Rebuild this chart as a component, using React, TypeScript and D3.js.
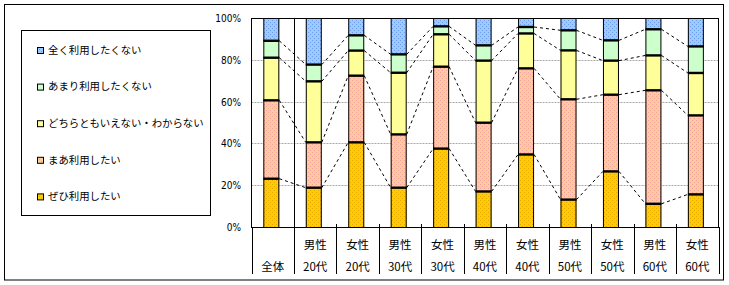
import React, { useEffect, useRef } from "react";
import * as d3 from "d3";

// categories (two label rows)
const rowTop = ["", "男性", "女性", "男性", "女性", "男性", "女性", "男性", "女性", "男性", "女性"];
const rowBottom = ["全体", "20代", "20代", "30代", "30代", "40代", "40代", "50代", "50代", "60代", "60代"];

// series, bottom to top (percent)
const zehi = [23.1, 18.8, 40.5, 18.8, 37.5, 17.0, 34.7, 13.1, 26.6, 11.1, 15.6];
const maa = [37.5, 21.7, 31.9, 25.5, 39.2, 32.9, 41.2, 48.0, 36.7, 54.3, 37.8];
const dochira = [20.4, 29.2, 12.0, 29.5, 15.5, 29.7, 16.7, 23.4, 16.3, 16.7, 20.3];
const amari = [8.1, 8.0, 7.3, 8.8, 3.8, 7.3, 3.1, 9.6, 9.7, 12.5, 12.7];
const mattaku = [10.9, 22.3, 8.3, 17.4, 4.0, 13.1, 4.3, 5.9, 10.7, 5.4, 13.6];

const seriesNames = ["ぜひ利用したい", "まあ利用したい", "どちらともいえない・わからない", "あまり利用したくない", "全く利用したくない"];
const seriesKeys = ["zehi", "maa", "dochira", "amari", "mattaku"];
const yTicks = [0, 20, 40, 60, 80, 100];

const fills: Record<string, [string, string | null]> = {
  zehi: ["#FFCC00", "#E6A800"],
  maa: ["#FFCC99", "#F4A0A0"],
  dochira: ["#FFFF99", null],
  amari: ["#CCFFCC", null],
  mattaku: ["#99CCFF", "#6F9AF0"],
};

const W = 729, H = 285;
const plot = { left: 251.5, right: 718.5, top: 18, bottom: 227 };
const barW = 16;
const jp = "'Noto Sans CJK JP', sans-serif";

export default function App() {
  const ref = useRef<SVGSVGElement>(null);

  useEffect(() => {
    document.body.style.margin = "0";
    const svg = d3.select(ref.current);
    svg.selectAll("*").remove();

    const rows = rowBottom.map((_, i) => ({
      idx: i,
      zehi: zehi[i], maa: maa[i], dochira: dochira[i], amari: amari[i], mattaku: mattaku[i],
    }));
    const stacked = d3.stack<any>().keys(seriesKeys)(rows);

    const x = d3.scaleBand<number>()
      .domain(rows.map(r => r.idx))
      .range([plot.left, plot.right])
      .padding(0);
    const y = d3.scaleLinear().domain([0, 100]).range([plot.bottom, plot.top]);
    const barX = (i: number) => x(i)! + (x.bandwidth() - barW) / 2 - 1.4;

    // patterns
    const defs = svg.append("defs");
    seriesKeys.forEach(k => {
      const [base, dot] = fills[k];
      const p = defs.append("pattern")
        .attr("id", "pat-" + k)
        .attr("patternUnits", "userSpaceOnUse")
        .attr("width", 4).attr("height", 4);
      p.append("rect").attr("width", 4).attr("height", 4).attr("fill", base);
      if (dot) {
        p.append("rect").attr("x", 0).attr("y", 0).attr("width", 1).attr("height", 1).attr("fill", dot);
        p.append("rect").attr("x", 2).attr("y", 2).attr("width", 1).attr("height", 1).attr("fill", dot);
      }
    });

    svg.append("rect")
      .attr("width", W).attr("height", H).attr("fill", "#fff");

    // outer frame
    svg.append("rect")
      .attr("x", 4.5).attr("y", 4.5).attr("width", 719).attr("height", 275.5)
      .attr("fill", "none").attr("stroke", "#000");

    // gridlines
    svg.append("g").selectAll("line")
      .data(yTicks.filter(t => t > 0 && t < 100))
      .join("line")
      .attr("x1", plot.left).attr("x2", plot.right)
      .attr("y1", d => Math.round(y(d)) + 0.5).attr("y2", d => Math.round(y(d)) + 0.5)
      .attr("stroke", "#a8a8a8")
      .attr("stroke-dasharray", "2,1");

    // y labels
    svg.append("g").selectAll("text")
      .data(yTicks)
      .join("text")
      .attr("x", 241)
      .attr("y", d => y(d) + 1)
      .attr("text-anchor", "end")
      .attr("dominant-baseline", "middle")
      .style("font-family", "'Liberation Sans Narrow', 'DejaVu Sans Condensed', sans-serif")
      .style("font-size", "10px")
      .text(d => d + "%");

    // bars
    const layer = svg.append("g");
    stacked.forEach(s => {
      layer.append("g").selectAll("rect")
        .data(s)
        .join("rect")
        .attr("x", (d: any) => barX(d.data.idx))
        .attr("y", (d: any) => y(d[1]))
        .attr("width", barW)
        .attr("height", (d: any) => y(d[0]) - y(d[1]))
        .attr("fill", `url(#pat-${s.key})`);
    });
    // bar sides
    layer.append("g").selectAll("path")
      .data(rows)
      .join("path")
      .attr("d", r => {
        const l = barX(r.idx) + 0.5, rt = barX(r.idx) + barW - 0.5;
        return `M${l},${y(100)}V${y(0)}M${rt},${y(100)}V${y(0)}`;
      })
      .attr("fill", "none")
      .attr("stroke", "#000");

    // connector lines between bars
    const conn = svg.append("g");
    stacked.slice(0, 4).forEach(s => {
      for (let i = 0; i < s.length - 1; i++) {
        conn.append("line")
          .attr("x1", barX(i) + barW).attr("y1", y(s[i][1]))
          .attr("x2", barX(i + 1)).attr("y2", y(s[i + 1][1]))
          .attr("stroke", "#000")
          .attr("stroke-width", 1)
          .attr("stroke-dasharray", "3,3");
      }
    });

    // thick boundaries
    stacked.slice(0, 4).forEach(s => {
      layer.append("g").selectAll("line")
        .data(s)
        .join("line")
        .attr("x1", (d: any) => barX(d.data.idx))
        .attr("x2", (d: any) => barX(d.data.idx) + barW)
        .attr("y1", (d: any) => y(d[1]))
        .attr("y2", (d: any) => y(d[1]))
        .attr("stroke", "#000")
        .attr("stroke-width", 2.4);
    });

    // plot frame
    svg.append("rect")
      .attr("x", plot.left).attr("y", plot.top + 0.5)
      .attr("width", plot.right - plot.left).attr("height", plot.bottom - plot.top)
      .attr("fill", "none").attr("stroke", "#000");

    // category separators
    const seps = d3.range(rows.length + 1);
    const sepX = (i: number) => Math.round(plot.left + i * x.bandwidth()) + 0.5;
    svg.append("g").selectAll("line")
      .data(seps)
      .join("line")
      .attr("x1", i => sepX(i)).attr("x2", i => sepX(i))
      .attr("y1", i => (i === 1 ? plot.top : i > 1 && i < rows.length ? plot.bottom - 3 : plot.bottom))
      .attr("y2", 274)
      .attr("stroke", "#000");

    // category labels
    const labels = svg.append("g")
      .style("font-family", jp)
      .style("font-size", "11.5px")
      .attr("text-anchor", "middle");
    labels.selectAll("text.top")
      .data(rows)
      .join("text")
      .attr("class", "top")
      .attr("x", r => x(r.idx)! + x.bandwidth() / 2)
      .attr("y", 249)
      .text(r => rowTop[r.idx]);
    labels.selectAll("text.bot")
      .data(rows)
      .join("text")
      .attr("class", "bot")
      .attr("x", r => x(r.idx)! + x.bandwidth() / 2)
      .attr("y", 271)
      .text(r => rowBottom[r.idx]);

    // legend
    const lg = svg.append("g");
    lg.append("rect")
      .attr("x", 21.5).attr("y", 30.5).attr("width", 189).attr("height", 185)
      .attr("fill", "#fff").attr("stroke", "#000");
    const legendItems = seriesKeys.map((k, i) => ({ k, name: seriesNames[i] })).reverse();
    const item = lg.selectAll("g.item")
      .data(legendItems)
      .join("g")
      .attr("class", "item")
      .attr("transform", (_, i) => `translate(37,${51 + i * 36.6})`);
    item.append("rect")
      .attr("x", 0.5).attr("y", -3.5).attr("width", 6).attr("height", 6)
      .attr("fill", d => `url(#pat-${d.k})`)
      .attr("stroke", "#000");
    item.append("text")
      .attr("x", 11)
      .attr("y", 0)
      .attr("dominant-baseline", "middle")
      .style("font-family", jp)
      .style("font-size", "10.4px")
      .text(d => d.name);
  }, []);

  return <svg ref={ref} width={W} height={H} style={{ display: "block" }} />;
}
